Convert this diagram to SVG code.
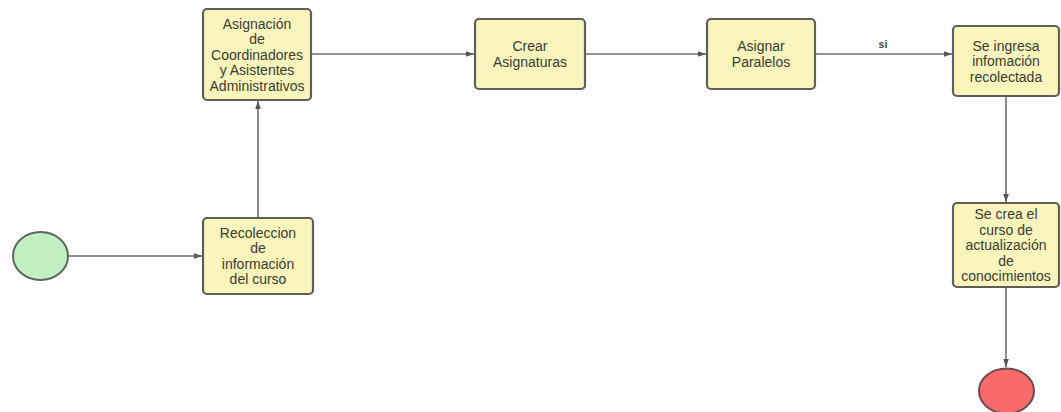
<svg xmlns="http://www.w3.org/2000/svg" width="1061" height="412" viewBox="0 0 1061 412">
<style>
.box{fill:#faf5bd;stroke:#5f5f5a;stroke-width:2.2}
.t{font-family:"Liberation Sans",Arial,sans-serif;font-size:14px;fill:#3c3c32;text-anchor:middle}
.c{stroke:#707070;stroke-width:1.6;fill:none}
.lbl{font-family:"Liberation Sans",Arial,sans-serif;font-size:10.5px;font-weight:bold;fill:#444;text-anchor:middle}
</style>
<defs>
<marker id="a" viewBox="0 0 10 10" refX="10" refY="5" markerWidth="8" markerHeight="8" markerUnits="userSpaceOnUse" orient="auto">
<path d="M0,1.5 L10,5 L0,8.5 z" fill="#555"/>
</marker>
</defs>
<rect width="1061" height="412" fill="#ffffff"/>
<g id="connectors">
<line class="c" x1="68" y1="256" x2="202" y2="256" marker-end="url(#a)"/>
<line class="c" x1="258" y1="218" x2="258" y2="101" marker-end="url(#a)"/>
<line class="c" x1="311" y1="54" x2="474" y2="54" marker-end="url(#a)"/>
<line class="c" x1="585" y1="54" x2="706" y2="54" marker-end="url(#a)"/>
<line class="c" x1="815" y1="54" x2="952" y2="54" marker-end="url(#a)"/>
<text class="lbl" x="883" y="48">si</text>
<line class="c" x1="1006" y1="96" x2="1006" y2="202" marker-end="url(#a)"/>
<line class="c" x1="1006" y1="287" x2="1006" y2="367" marker-end="url(#a)"/>
</g>
<g id="start"><ellipse cx="40.5" cy="256" rx="27.5" ry="24" fill="#c2efc2" stroke="#5a6a5a" stroke-width="2"/></g>
<g id="recoleccion">
<rect class="box" x="203" y="218" width="110" height="76" rx="4"/>
<text class="t" x="258" y="237.75">Recoleccion</text>
<text class="t" x="258" y="253.25">de</text>
<text class="t" x="258" y="268.75">información</text>
<text class="t" x="258" y="284.25">del curso</text>
</g>
<g id="asignacion">
<rect class="box" x="203" y="9" width="108" height="91" rx="4"/>
<text class="t" x="257" y="28.5">Asignación</text>
<text class="t" x="257" y="44">de</text>
<text class="t" x="257" y="59.5">Coordinadores</text>
<text class="t" x="257" y="75">y Asistentes</text>
<text class="t" x="257" y="90.5">Administrativos</text>
</g>
<g id="crear">
<rect class="box" x="475" y="19" width="110" height="70" rx="4"/>
<text class="t" x="530" y="51">Crear</text>
<text class="t" x="530" y="66.5">Asignaturas</text>
</g>
<g id="paralelos">
<rect class="box" x="707" y="19" width="108" height="70" rx="4"/>
<text class="t" x="761" y="51">Asignar</text>
<text class="t" x="761" y="66.5">Paralelos</text>
</g>
<g id="ingresa">
<rect class="box" x="953" y="26" width="106" height="70" rx="4"/>
<text class="t" x="1006" y="50.5">Se ingresa</text>
<text class="t" x="1006" y="66">infomación</text>
<text class="t" x="1006" y="81.5">recolectada</text>
</g>
<g id="crea">
<rect class="box" x="953" y="203" width="106" height="84" rx="4"/>
<text class="t" x="1006" y="219">Se crea el</text>
<text class="t" x="1006" y="234.5">curso de</text>
<text class="t" x="1006" y="250">actualización</text>
<text class="t" x="1006" y="265.5">de</text>
<text class="t" x="1006" y="281">conocimientos</text>
</g>
<g id="end"><ellipse cx="1006.5" cy="391" rx="27.5" ry="22.5" fill="#fb6a6a" stroke="#6a4a4a" stroke-width="2"/></g>
</svg>
